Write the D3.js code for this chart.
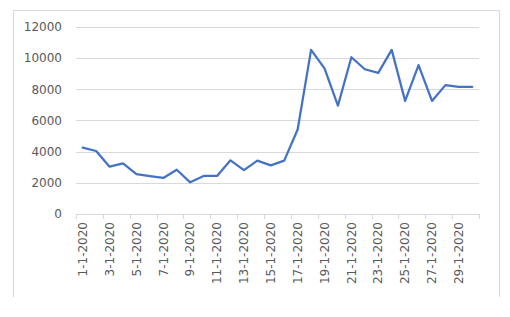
<!DOCTYPE html>
<html>
<head>
<meta charset="utf-8">
<script src="https://cdn.jsdelivr.net/npm/d3@7"></script>
<style>
  html, body { margin: 0; padding: 0; background: #ffffff; }
  svg { display: block; }
</style>
</head>
<body>
<script>
const dates = ["1-1-2020","2-1-2020","3-1-2020","4-1-2020","5-1-2020","6-1-2020","7-1-2020","8-1-2020","9-1-2020","10-1-2020",
  "11-1-2020","12-1-2020","13-1-2020","14-1-2020","15-1-2020","16-1-2020","17-1-2020","18-1-2020","19-1-2020","20-1-2020",
  "21-1-2020","22-1-2020","23-1-2020","24-1-2020","25-1-2020","26-1-2020","27-1-2020","28-1-2020","29-1-2020","30-1-2020"];
const values = [4250,4040,3035,3250,2560,2430,2310,2840,2030,2440,
  2440,3440,2810,3420,3120,3420,5420,10520,9340,6950,
  10050,9280,9050,10520,7250,9540,7250,8260,8150,8150];
const yTicks = [0,2000,4000,6000,8000,10000,12000];

(function () {
const W = 510, H = 317;
const svg = d3.select("body").append("svg").attr("width", W).attr("height", H);

// chart frame (left, top, right borders)
svg.append("path")
  .attr("d", "M13.5,297 L13.5,10.5 L499.5,10.5 L499.5,297")
  .attr("fill", "none").attr("stroke", "#d9d9d9").attr("stroke-width", 1);

const pLeft = 76, pRight = 479, pTop = 26.8, pBottom = 214;
const x = d3.scaleBand().domain(dates).range([pLeft, pRight]);
const y = d3.scaleLinear().domain([0, 12000]).range([pBottom, pTop]);

// gridlines
svg.append("g").selectAll("line").data(yTicks.filter(d => d > 0)).join("line")
  .attr("x1", pLeft).attr("x2", pRight)
  .attr("y1", d => Math.round(y(d)) + 0.5).attr("y2", d => Math.round(y(d)) + 0.5)
  .attr("stroke", "#d9d9d9").attr("stroke-width", 1);

// y axis labels
const yAxis = d3.axisLeft(y).tickValues(yTicks).tickSize(0).tickPadding(14).tickFormat(d3.format("d"));
const gy = svg.append("g").attr("transform", `translate(${pLeft},0)`).call(yAxis);
gy.select(".domain").remove();
gy.selectAll("text")
  .attr("font-family", "DejaVu Sans, Verdana, sans-serif")
  .attr("font-size", 12).attr("fill", "#595959");

// x axis line
svg.append("line").attr("x1", pLeft).attr("x2", pRight)
  .attr("y1", pBottom + 0.5).attr("y2", pBottom + 0.5)
  .attr("stroke", "#d9d9d9").attr("stroke-width", 1);

// tick marks between every 2 categories
const tickIdx = d3.range(0, dates.length + 1, 2);
svg.append("g").selectAll("line").data(tickIdx).join("line")
  .attr("x1", i => Math.round(pLeft + i * x.step()) + 0.5)
  .attr("x2", i => Math.round(pLeft + i * x.step()) + 0.5)
  .attr("y1", pBottom).attr("y2", pBottom + 5)
  .attr("stroke", "#d9d9d9").attr("stroke-width", 1);

// x labels (every other category)
const xAxis = d3.axisBottom(x).tickValues(dates.filter((d, i) => i % 2 === 0)).tickSize(0).tickPadding(0);
const gx = svg.append("g").attr("transform", `translate(0,${pBottom})`).call(xAxis);
gx.select(".domain").remove();
gx.selectAll("text")
  .attr("font-family", "DejaVu Sans, Verdana, sans-serif")
  .attr("font-size", 12).attr("fill", "#595959")
  .attr("text-anchor", "end")
  .attr("transform", "rotate(-90)")
  .attr("x", -8).attr("y", 0).attr("dy", "0.35em");

// line
const line = d3.line()
  .x((d, i) => x(dates[i]) + x.bandwidth() / 2)
  .y(d => y(d));
svg.append("path").datum(values)
  .attr("d", line)
  .attr("fill", "none")
  .attr("stroke", "#4472c4")
  .attr("stroke-width", 2.25)
  .attr("stroke-linejoin", "round")
  .attr("stroke-linecap", "round");
})();
</script>
</body>
</html>
